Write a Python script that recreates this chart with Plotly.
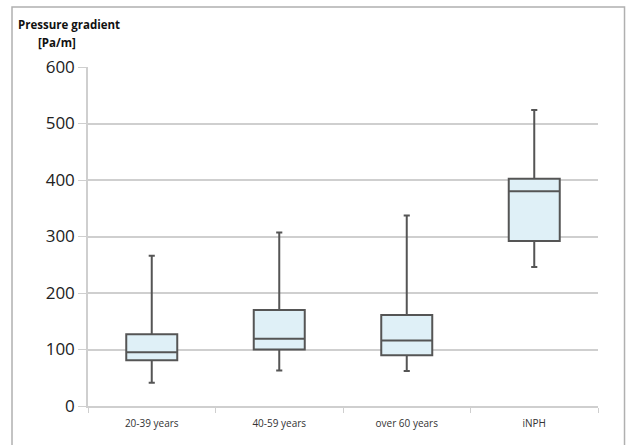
import plotly.graph_objects as go

categories = ["20-39 years", "40-59 years", "over 60 years", "iNPH"]
lower_whisker = [41, 63, 62, 246]
q1_values = [81, 100, 90, 292]
median_values = [95, 119, 116, 380]
q3_values = [127, 170, 161, 402]
upper_whisker = [266, 307, 337, 524]
y_ticks = [0, 100, 200, 300, 400, 500, 600]

fig = go.Figure()
fig.add_trace(go.Box(
    x=categories,
    q1=q1_values,
    median=median_values,
    q3=q3_values,
    lowerfence=lower_whisker,
    upperfence=upper_whisker,
    fillcolor="#dff0f7",
    line=dict(color="#555555", width=2),
    whiskerwidth=0.12,
    boxpoints=False,
    showlegend=False,
    hoverinfo="skip",
))

grid_color = "#cfcfcf"
fig.update_layout(
    width=629, height=445,
    margin=dict(l=88, r=31, t=67, b=39),
    paper_bgcolor="white", plot_bgcolor="white",
    boxgap=0.6, boxgroupgap=0,
    font=dict(family="Open Sans, Liberation Sans, Arial, sans-serif", color="#222222"),
    xaxis=dict(
        type="category",
        showline=True, linecolor=grid_color, linewidth=1.5,
        ticks="outside", tickson="boundaries", ticklen=5, tickcolor=grid_color,
        tickfont=dict(size=10, color="#333333"),
        ticklabelstandoff=7,
        showgrid=False,
    ),
    yaxis=dict(
        range=[0, 600],
        tickvals=y_ticks,
        showline=True, linecolor=grid_color, linewidth=1.5,
        showgrid=True, gridcolor=grid_color, gridwidth=1.5,
        ticks="outside", ticklen=8, tickcolor=grid_color,
        tickfont=dict(size=17, color="#222222"),
        zeroline=False,
    ),
    shapes=[dict(
        type="rect", xref="paper", yref="paper",
        x0=-0.149, x1=1.052, y0=-0.2, y1=1.177,
        line=dict(color="#b0b0b0", width=1.5), fillcolor="rgba(0,0,0,0)",
        layer="below",
    )],
    annotations=[
        dict(text="<b>Pressure gradient</b>", xref="paper", yref="paper",
             x=-0.141, y=1.125, xanchor="left", yanchor="middle", showarrow=False,
             font=dict(size=11.5, color="#111111")),
        dict(text="<b>[Pa/m]</b>", xref="paper", yref="paper",
             x=-0.06, y=1.072, xanchor="center", yanchor="middle", showarrow=False,
             font=dict(size=11.5, color="#111111")),
    ],
)

fig.write_html("out.html", config={"displayModeBar": False},
               post_script="document.body.style.margin='0';")
